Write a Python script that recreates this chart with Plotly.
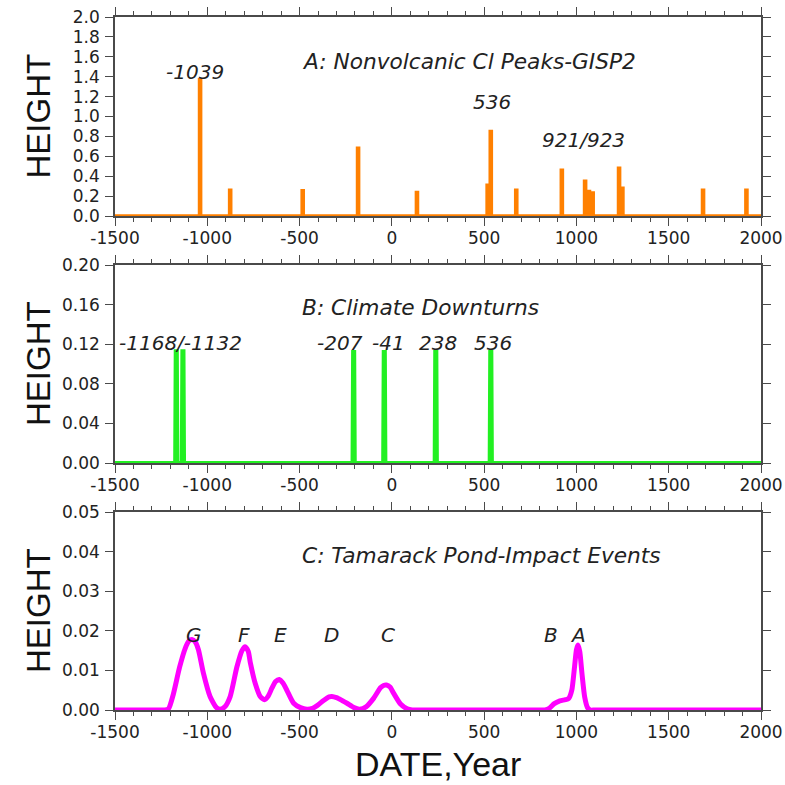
import plotly.graph_objects as go

# ---------------- data ----------------
# Panel A: nonvolcanic Cl peaks (GISP2)
a_year = [-1039, -876, -483, -183, 136, 519, 536, 674, 921, 1047, 1068, 1088, 1231, 1249, 1686, 1921]
a_height = [1.37, 0.26, 0.255, 0.68, 0.235, 0.31, 0.85, 0.26, 0.46, 0.35, 0.245, 0.23, 0.48, 0.28, 0.26, 0.26]
a_labels = ["-1039", "536", "921/923"]
a_label_year = [-1066, 545, 1039]
a_label_height = [1.45, 1.15, 0.76]

# Panel B: climate downturns
b_year = [-1168, -1132, -207, -41, 238, 536]
b_height = [0.113, 0.113, 0.112, 0.112, 0.112, 0.112]
b_labels = ["-1168/-1132", "-207", "-41", "238", "536"]
b_label_year = [-1147, -281, -19, 248, 546]
b_label_height = [0.121, 0.121, 0.121, 0.121, 0.121]

# Panel C: Tamarack Pond impact events (curve)
c_year = [-1500, -1400, -1300, -1230, -1210, -1185, -1150, -1120, -1100, -1083, -1065, -1048, -1021, -985, -950, -930,
          -905, -876, -840, -812, -795, -778, -767, -740, -713, -690, -670, -650, -630, -610, -590, -569,
          -532, -495, -460, -430, -405, -370, -340, -325, -300, -270, -243, -205, -175, -140, -98, -62,
          -45, -29, -10, 10, 47, 83, 110, 140, 300, 500, 700, 800, 830, 855, 880, 910, 940, 958, 975, 990,
          1000, 1008, 1018, 1030, 1045, 1060, 1075, 1100, 1300, 1500, 1700, 2000]
c_height = [0, 0, 0, 0, 0.0003, 0.0038, 0.0108, 0.0155, 0.0174, 0.0178, 0.0172, 0.0152, 0.0093, 0.0034, 0.0006, 0.0002,
            0.0008, 0.0034, 0.0108, 0.0150, 0.0160, 0.0148, 0.0120, 0.0067, 0.0034, 0.0026, 0.0035, 0.0055, 0.0072, 0.0077, 0.0068, 0.0050,
            0.0017, 0.0006, 0.0002, 0.0004, 0.0011, 0.0024, 0.0033, 0.0034, 0.0031, 0.0024, 0.0017, 0.0006, 0.0002, 0.0008, 0.0030, 0.0056,
            0.0062, 0.0063, 0.0058, 0.0042, 0.0015, 0.0003, 0, 0, 0, 0, 0, 0, 0, 0.0005, 0.0016, 0.0023, 0.0026, 0.0029, 0.0050, 0.0110,
            0.0152, 0.0164, 0.0148, 0.0092, 0.0032, 0.0006, 0, 0, 0, 0, 0, 0]
c_labels = ["G", "F", "E", "D", "C", "B", "A"]
c_label_year = [-1073, -800, -605, -325, -20, 862, 1008]
c_label_height = [0.0189, 0.0189, 0.0189, 0.0189, 0.0189, 0.0189, 0.0189]

x_tick_vals = [-1500, -1000, -500, 0, 500, 1000, 1500, 2000]
x_tick_labels = ["-1500", "-1000", "-500", "0", "500", "1000", "1500", "2000"]

titles = ["A: Nonvolcanic Cl Peaks-GISP2", "B: Climate Downturns", "C: Tamarack Pond-Impact Events"]
title_year = -496
title_height = [1.55, 0.157, 0.039]

X_MIN, X_MAX = -1500, 2000
W = H = 785


def spikes(years, heights, hw_bot, hw_top):
    xs, ys = [X_MIN], [0]
    for x, h in sorted(zip(years, heights)):
        xs += [x - hw_bot, x - hw_top, x + hw_top, x + hw_bot]
        ys += [0, h, h, 0]
    xs.append(X_MAX)
    ys.append(0)
    return xs, ys


fig = go.Figure()

ax, ay = spikes(a_year, a_height, 3, 3)
fig.add_trace(go.Scatter(x=ax, y=ay, mode="lines", line=dict(color="#FF8000", width=3.5),
                         xaxis="x", yaxis="y", hoverinfo="skip"))
bx, by = spikes(b_year, b_height, 6, 3)
fig.add_trace(go.Scatter(x=bx, y=by, mode="lines", line=dict(color="#22F022", width=4),
                         xaxis="x2", yaxis="y2", hoverinfo="skip"))
fig.add_trace(go.Scatter(x=c_year, y=c_height, mode="lines",
                         line=dict(color="#FF00FF", width=5, shape="spline", smoothing=0.6),
                         xaxis="x3", yaxis="y3", hoverinfo="skip"))

# geometry (pixels)
left_px, right_px = 115, 761
panels_px = [(17, 216), (265, 463), (512, 710)]
xdom = [left_px / W, right_px / W]

frame_color = "#4a4a4a"
tick_font = dict(family="DejaVu Sans", size=17, color="#222222")

yranges = [[0, 2.0], [0, 0.2], [0, 0.05]]
ydticks = [0.2, 0.04, 0.01]
yformats = [".1f", ".2f", ".2f"]

layout = dict(width=W, height=H, margin=dict(l=0, r=0, t=0, b=0, autoexpand=False),
              paper_bgcolor="white", plot_bgcolor="white", showlegend=False)

for i in range(3):
    sfx = "" if i == 0 else str(i + 1)
    top, bot = panels_px[i]
    ydom = [1 - bot / H, 1 - top / H]
    layout["xaxis" + sfx] = dict(
        domain=xdom, range=[X_MIN, X_MAX], anchor="y" + sfx, automargin=False,
        tickmode="array", tickvals=x_tick_vals, ticktext=x_tick_labels,
        ticks="outside", ticklen=8, tickwidth=1.3, tickcolor=frame_color,
        minor=dict(dtick=100, ticks="outside", ticklen=4, tickwidth=1, tickcolor=frame_color, showgrid=False),
        showline=True, linecolor=frame_color, linewidth=1.5, mirror="allticks",
        showgrid=False, zeroline=False, tickfont=tick_font, layer="below traces",
        ticklabelstandoff=-2,
    )
    layout["yaxis" + sfx] = dict(
        domain=ydom, range=yranges[i], anchor="x" + sfx, automargin=False,
        tick0=0, dtick=ydticks[i], tickformat=yformats[i],
        ticks="outside", ticklen=8, tickwidth=1.3, tickcolor=frame_color,
        showline=True, linecolor=frame_color, linewidth=1.5, mirror="allticks",
        showgrid=False, zeroline=False, tickfont=tick_font, ticklabelstandoff=2,
        layer="below traces",
    )

fig.update_layout(**layout)

ital = dict(family="DejaVu Sans", size=20, color="#222222")
ital_title = dict(family="DejaVu Sans", size=21.7, color="#222222")
ann = []
refs = ["", "2", "3"]
label_sets = [(a_labels, a_label_year, a_label_height),
              (b_labels, b_label_year, b_label_height),
              (c_labels, c_label_year, c_label_height)]
for i in range(3):
    r = refs[i]
    ann.append(dict(x=title_year, y=title_height[i], xref="x" + r, yref="y" + r,
                    text="<i>" + titles[i] + "</i>", showarrow=False, xanchor="left", yanchor="middle",
                    font=ital_title))
    labs, lx, ly = label_sets[i]
    for t, x, y in zip(labs, lx, ly):
        ann.append(dict(x=x, y=y, xref="x" + r, yref="y" + r, text="<i>" + t + "</i>",
                        showarrow=False, xanchor="center", yanchor="middle", font=ital))
    top, bot = panels_px[i]
    ann.append(dict(x=38 / W, y=1 - (top + bot) / 2 / H, xref="paper", yref="paper", text="HEIGHT",
                    textangle=-90, showarrow=False, xanchor="center", yanchor="middle",
                    font=dict(family="Liberation Sans", size=33, color="#111111")))

ann.append(dict(x=438 / W, y=1 - 764 / H, xref="paper", yref="paper", text="DATE,Year",
                showarrow=False, xanchor="center", yanchor="middle",
                font=dict(family="Liberation Sans", size=34, color="#111111")))
fig.update_layout(annotations=ann)

fig.write_html("out.html", config={"displayModeBar": False},
               post_script="document.body.style.margin='0px';document.body.style.overflow='hidden';")
